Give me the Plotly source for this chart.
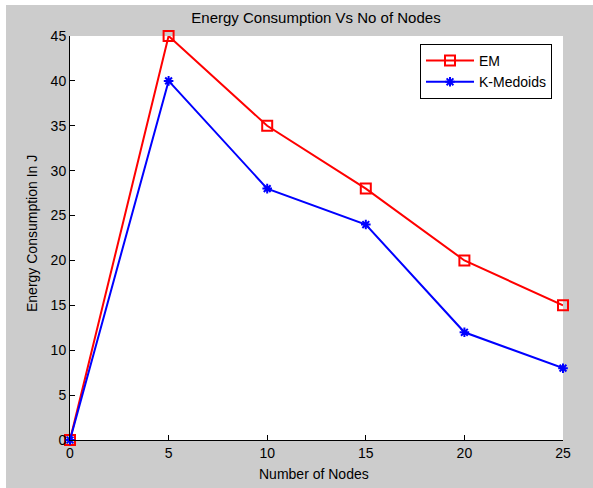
import plotly.graph_objects as go

nodes = [0, 5, 10, 15, 20, 25]
em = [0, 45, 35, 28, 20, 15]
kmedoids = [0, 40, 28, 24, 12, 8]
x_ticks = [0, 5, 10, 15, 20, 25]
y_ticks = [0, 5, 10, 15, 20, 25, 30, 35, 40, 45]

W, H = 593, 488
L, R, T, B = 70, 30, 36, 48
pw, ph = W - L - R, H - T - B

def px(xp):
    return (xp - L) / pw

def py(yp):
    return (H - B - yp) / ph

FONT = "Liberation Sans, Arial, sans-serif"

fig = go.Figure()
fig.add_trace(go.Scatter(
    x=nodes, y=em, name="EM", mode="lines+markers",
    line=dict(color="#ff0000", width=2),
    marker=dict(symbol="square-open", size=10, color="#ff0000", line=dict(width=2, color="#ff0000")),
    cliponaxis=False,
))
fig.add_trace(go.Scatter(
    x=nodes, y=kmedoids, name="K-Medoids", mode="lines+markers",
    line=dict(color="#0000ff", width=2),
    marker=dict(symbol="asterisk-open", size=8, color="#0000ff", line=dict(width=2, color="#0000ff")),
    cliponaxis=False,
))

fig.update_layout(
    width=W, height=H,
    margin=dict(l=L, r=R, t=T, b=B, pad=0),
    paper_bgcolor="white",
    plot_bgcolor="rgba(0,0,0,0)",
    font=dict(family=FONT, size=14, color="#000000"),
    title=dict(text="Energy Consumption Vs No of Nodes", x=316 / W, xanchor="center",
               y=1 - 18 / H, yanchor="middle", font=dict(size=15)),
    showlegend=True,
    legend=dict(x=px(420), y=py(44), xanchor="left", yanchor="top",
                bgcolor="white", bordercolor="#000000", borderwidth=1,
                font=dict(size=14), tracegroupgap=0, itemwidth=48),
    shapes=[
        dict(type="rect", xref="paper", yref="paper", x0=px(6), x1=px(W + 5), y0=py(H + 5), y1=py(5),
             fillcolor="#cccccc", line=dict(width=0), layer="below"),
        dict(type="rect", xref="paper", yref="paper", x0=0, x1=1, y0=0, y1=1,
             fillcolor="white", line=dict(width=0), layer="below"),
    ],
    annotations=[
        dict(text="Number of Nodes", xref="paper", yref="paper", x=px(314), y=py(474),
             xanchor="center", yanchor="middle", showarrow=False, font=dict(size=14)),
        dict(text="Energy Consumption In J", xref="paper", yref="paper", x=px(32), y=py(234),
             xanchor="center", yanchor="middle", showarrow=False, textangle=-90, font=dict(size=14)),
    ],
)
fig.update_xaxes(
    range=[0, 25], tickvals=x_ticks, ticks="inside", ticklen=5, tickcolor="#000000",
    showline=True, linecolor="#000000", linewidth=1, showgrid=False, zeroline=False,
    mirror=False, tickfont=dict(size=14), fixedrange=True,
)
fig.update_yaxes(
    range=[0, 45], tickvals=y_ticks, ticks="inside", ticklen=5, tickcolor="#000000",
    showline=True, linecolor="#000000", linewidth=1, showgrid=False, zeroline=False,
    mirror=False, tickfont=dict(size=14), fixedrange=True,
)

fig.write_html("out.html", config={"displayModeBar": False},
               post_script="document.body.style.margin='0';document.body.style.overflow='hidden';")
